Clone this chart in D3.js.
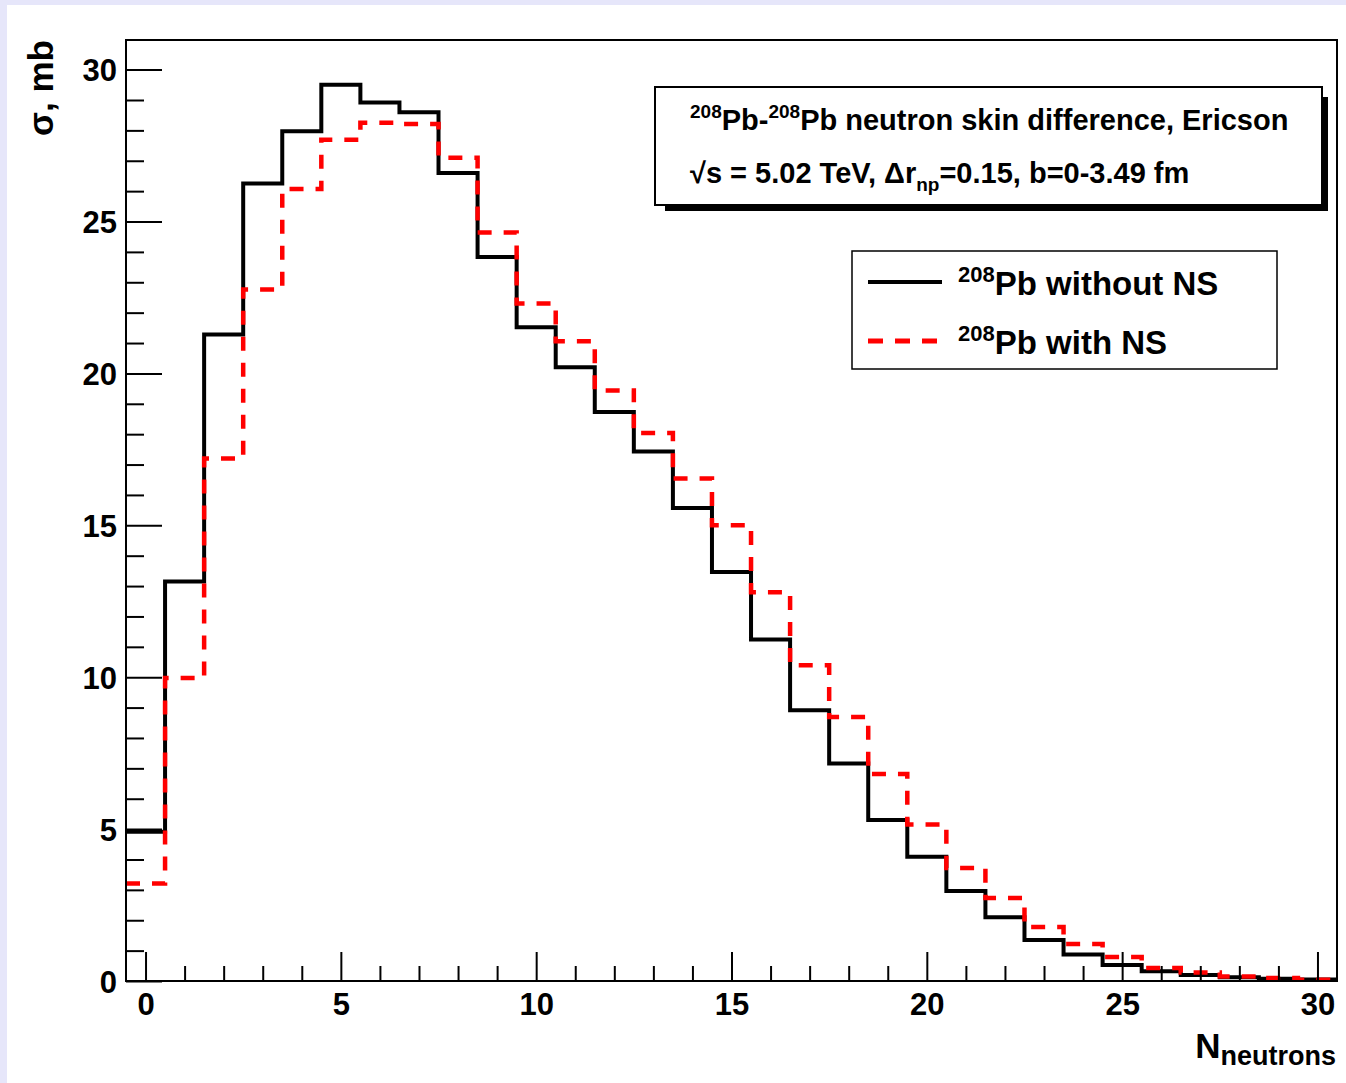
<!DOCTYPE html>
<html>
<head>
<meta charset="utf-8">
<script src="https://cdn.jsdelivr.net/npm/d3@7"></script>
<style>
  body { margin: 0; background: #e6e6fa; }
  svg { display: block; }
  text { font-family: "Liberation Sans", Arial, Helvetica, sans-serif; font-weight: bold; fill: #000; }
</style>
</head>
<body>
<div id="chart"></div>
<script>
// bin centres 0..30, one neutron per bin
const bins = d3.range(0, 31);
const withoutNS = [4.91, 13.15, 21.28, 26.25, 27.97, 29.5, 28.92, 28.6, 26.6, 23.83,
  21.52, 20.2, 18.73, 17.43, 15.57, 13.46, 11.24, 8.91, 7.16, 5.3,
  4.09, 2.96, 2.1, 1.35, 0.87, 0.53, 0.32, 0.2, 0.12, 0.07, 0.05];
const withNS = [3.21, 9.97, 17.2, 22.76, 26.07, 27.69, 28.25, 28.21, 27.1, 24.64,
  22.3, 21.06, 19.44, 18.04, 16.54, 15.0, 12.8, 10.39, 8.69, 6.81,
  5.15, 3.72, 2.73, 1.78, 1.22, 0.79, 0.43, 0.28, 0.15, 0.1, 0.04];
const xMajor = [0, 5, 10, 15, 20, 25, 30];
const yMajor = [0, 5, 10, 15, 20, 25, 30];
const legendLabels = ['Pb without NS', 'Pb with NS'];

const W = 1346, H = 1083;
const frame = { left: 126, right: 1337, top: 40, bottom: 981 };

const svg = d3.select('#chart').append('svg')
  .attr('width', W)
  .attr('height', H);

svg.append('rect').attr('width', W).attr('height', H).attr('fill', '#e6e6fa');
svg.append('rect').attr('x', 7).attr('y', 5).attr('width', W - 7).attr('height', H - 5).attr('fill', '#fff');

const x = d3.scaleLinear().domain([-0.5, 30.5]).range([frame.left, frame.right]);
const y = d3.scaleLinear().domain([0, 30.975]).range([frame.bottom, frame.top]);

// histogram outlines
const step = d3.line()
  .curve(d3.curveStepAfter)
  .x(d => x(d[0]))
  .y(d => y(d[1]));

function histPoints(vals) {
  const pts = bins.map((b, i) => [b - 0.5, vals[i]]);
  pts.push([30.5, vals[vals.length - 1]]);
  return pts;
}

svg.append('path')
  .datum(histPoints(withoutNS))
  .attr('d', step)
  .attr('fill', 'none')
  .attr('stroke', '#000')
  .attr('stroke-width', 4);

svg.append('path')
  .datum(histPoints(withNS))
  .attr('d', step)
  .attr('fill', 'none')
  .attr('stroke', '#ff0000')
  .attr('stroke-width', 4.5)
  .attr('stroke-dasharray', '14,12');

// frame
svg.append('rect')
  .attr('x', frame.left).attr('y', frame.top)
  .attr('width', frame.right - frame.left)
  .attr('height', frame.bottom - frame.top)
  .attr('fill', 'none')
  .attr('stroke', '#000')
  .attr('stroke-width', 2);

// axes, ticks inward like ROOT
const yAxis = svg.append('g').attr('transform', `translate(${frame.left},0)`)
  .call(d3.axisLeft(y).tickValues(yMajor).tickSize(-36).tickPadding(9));
const yMinor = svg.append('g').attr('transform', `translate(${frame.left},0)`)
  .call(d3.axisLeft(y).tickValues(d3.range(0, 31).filter(v => v % 5)).tickSize(-18).tickFormat(''));
const xAxis = svg.append('g').attr('transform', `translate(0,${frame.bottom})`)
  .call(d3.axisBottom(x).tickValues(xMajor).tickSize(-29).tickPadding(12));
const xMinor = svg.append('g').attr('transform', `translate(0,${frame.bottom})`)
  .call(d3.axisBottom(x).tickValues(d3.range(0, 31).filter(v => v % 5)).tickSize(-15).tickFormat(''));

[yAxis, yMinor, xAxis, xMinor].forEach(g => {
  g.select('.domain').remove();
  g.selectAll('.tick line').attr('stroke', '#000').attr('stroke-width', 2);
  g.selectAll('.tick text')
    .style('font-family', '"Liberation Sans", Arial, sans-serif')
    .style('font-weight', 'bold')
    .style('font-size', '31px')
    .attr('fill', '#000');
});
yAxis.selectAll('.tick text').attr('dy', '0.36em');

// axis titles
svg.append('text')
  .attr('transform', 'translate(53,40) rotate(-90)')
  .attr('text-anchor', 'end')
  .style('font-size', '35px')
  .text('σ, mb');

const xt = svg.append('text')
  .attr('x', 1336).attr('y', 1058)
  .attr('text-anchor', 'end');
xt.append('tspan').style('font-size', '35px').text('N');
xt.append('tspan').style('font-size', '27px').attr('dy', 7).text('neutrons');

// title pave with shadow
const pave = { x1: 655, y1: 87, x2: 1322, y2: 205 };
svg.append('rect')
  .attr('x', pave.x1 + 10).attr('y', pave.y1 + 10)
  .attr('width', pave.x2 - pave.x1 - 4).attr('height', pave.y2 - pave.y1 - 4)
  .attr('fill', '#000');
svg.append('rect')
  .attr('x', pave.x1).attr('y', pave.y1)
  .attr('width', pave.x2 - pave.x1).attr('height', pave.y2 - pave.y1)
  .attr('fill', '#fff').attr('stroke', '#000').attr('stroke-width', 2);

const t1 = svg.append('text').attr('x', 690).attr('y', 130).style('font-size', '29px');
t1.append('tspan').style('font-size', '19px').attr('dy', -12).text('208');
t1.append('tspan').attr('dy', 12).text('Pb-');
t1.append('tspan').style('font-size', '19px').attr('dy', -12).text('208');
t1.append('tspan').attr('dy', 12).text('Pb neutron skin difference, Ericson');

const t2 = svg.append('text').attr('x', 690).attr('y', 183).style('font-size', '29px');
t2.append('tspan').text('√s = 5.02 TeV,  Δr');
t2.append('tspan').style('font-size', '19px').attr('dy', 8).text('np');
t2.append('tspan').attr('dy', -8).text('=0.15, b=0-3.49 fm');

// legend
const leg = { x1: 852, y1: 251, x2: 1277, y2: 369 };
svg.append('rect')
  .attr('x', leg.x1).attr('y', leg.y1)
  .attr('width', leg.x2 - leg.x1).attr('height', leg.y2 - leg.y1)
  .attr('fill', '#fff').attr('stroke', '#000').attr('stroke-width', 1.5);

const legStyles = [
  { stroke: '#000', dash: null, width: 4 },
  { stroke: '#ff0000', dash: '15,12', width: 5 }
];
legendLabels.forEach((lab, i) => {
  const cy = 282 + i * 59;
  svg.append('line')
    .attr('x1', 868).attr('x2', 942)
    .attr('y1', cy).attr('y2', cy)
    .attr('stroke', legStyles[i].stroke)
    .attr('stroke-width', legStyles[i].width)
    .attr('stroke-dasharray', legStyles[i].dash);
  const t = svg.append('text').attr('x', 958).attr('y', cy + 13).style('font-size', '33px');
  t.append('tspan').style('font-size', '22px').attr('dy', -13).text('208');
  t.append('tspan').attr('dy', 13).text(lab);
});
</script>
</body>
</html>
